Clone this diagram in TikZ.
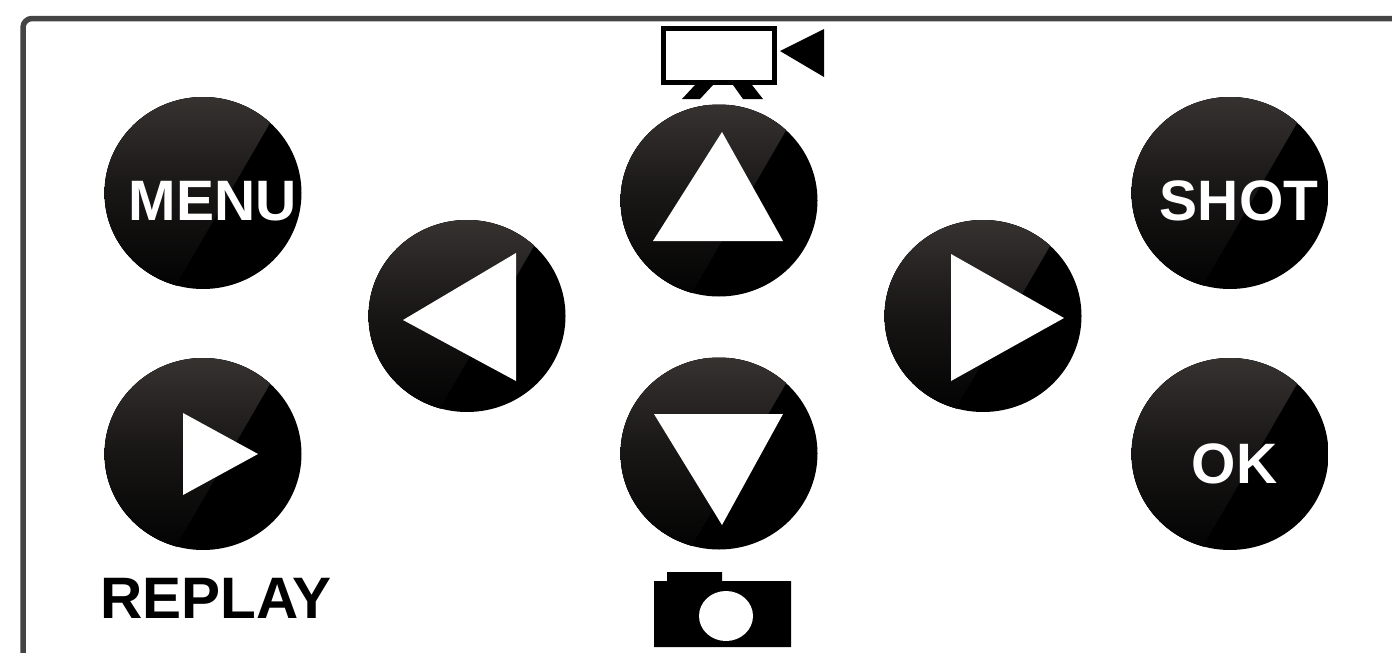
\documentclass[tikz,border=0pt]{standalone}
\usepackage{fontspec}
\setmainfont{Liberation Sans}
\usetikzlibrary{shapes.geometric}
\definecolor{frame}{HTML}{444444}
\definecolor{gloss}{HTML}{3A3634}
\tikzset{
  x=1pt,y=-1pt,
  btn/.style={ellipse,minimum width=197pt,minimum height=192pt,inner sep=0pt,outer sep=0pt,
    path picture={
      \fill[black] (path picture bounding box.north west) rectangle (path picture bounding box.south east);
      \fill[top color=gloss,bottom color=black,middle color=gloss!40!black,shading angle=0]
        ([shift={(-110pt,110pt)}]path picture bounding box.center) --
        ([shift={(90pt,110pt)}]path picture bounding box.center) --
        ([shift={(67pt,70pt)}]path picture bounding box.center) --
        ([shift={(-24pt,-87pt)}]path picture bounding box.center) --
        ([shift={(-32pt,-110pt)}]path picture bounding box.center) --
        ([shift={(-110pt,-110pt)}]path picture bounding box.center) -- cycle;
    }},
  lbl/.style={anchor=base,inner sep=0pt,font=\fontsize{57}{57}\selectfont\bfseries},
  wl/.style={lbl,text=white},
  glyph/.style={fill=white,draw=none},
  ink/.style={fill=black,draw=none}
}
\begin{document}
\begin{tikzpicture}
\useasboundingbox (0,0) rectangle (1392,653);
\fill[white] (0,0) rectangle (1392,653);
\draw[frame,line width=5.5pt,rounded corners=9pt] (23,653) -- (23,18.5) -- (1392,18.5);

\node[btn] (menu) at (203,193) {};
\node[btn] (replay) at (203,454) {};
\node[btn] (shot) at (1230,193) {};
\node[btn] (ok) at (1230,454) {};
\node[btn] (up) at (719,200.5) {};
\node[btn] (down) at (719,453.5) {};
\node[btn] (left) at (467,316) {};
\node[btn] (right) at (983,316) {};

\node[wl] (menutext) at (212.5,220) {MENU};
\node[wl] (shottext) at (1239,220) {SHOT};
\node[wl] (oktext) at (1234.5,483) {OK};
\node[lbl,text=black,font=\fontsize{58.5}{59}\selectfont\bfseries] (replaytext) at (216,618) {REPLAY};

\fill[glyph] (722,132) -- (783,241) -- (653,241) -- cycle;
\fill[glyph] (654,414) -- (783,414) -- (722,525) -- cycle;
\fill[glyph] (403,320) -- (516,253) -- (516,381) -- cycle;
\fill[glyph] (951,254) -- (1064,318) -- (951,381) -- cycle;
\fill[glyph] (183,413) -- (258,454) -- (183,495) -- cycle;

% video icon
\draw[black,line width=5pt,fill=white] (663.5,28.5) rectangle (774.5,82.5);
\fill[ink] (780,51) -- (824,29) -- (824,77) -- cycle;
\fill[ink] (695,85) -- (713,85) -- (700,99) -- (682,99) -- cycle;
\fill[ink] (733,85) -- (752,85) -- (763,99) -- (743,99) -- cycle;

% photo icon
\fill[ink] (654,581) -- (667,581) -- (667,572) -- (722,572) -- (722,581) -- (791,581) -- (791,647) -- (654,647) -- cycle;
\fill[white] (726,616) ellipse [x radius=27pt,y radius=25pt];
\end{tikzpicture}
\end{document}
